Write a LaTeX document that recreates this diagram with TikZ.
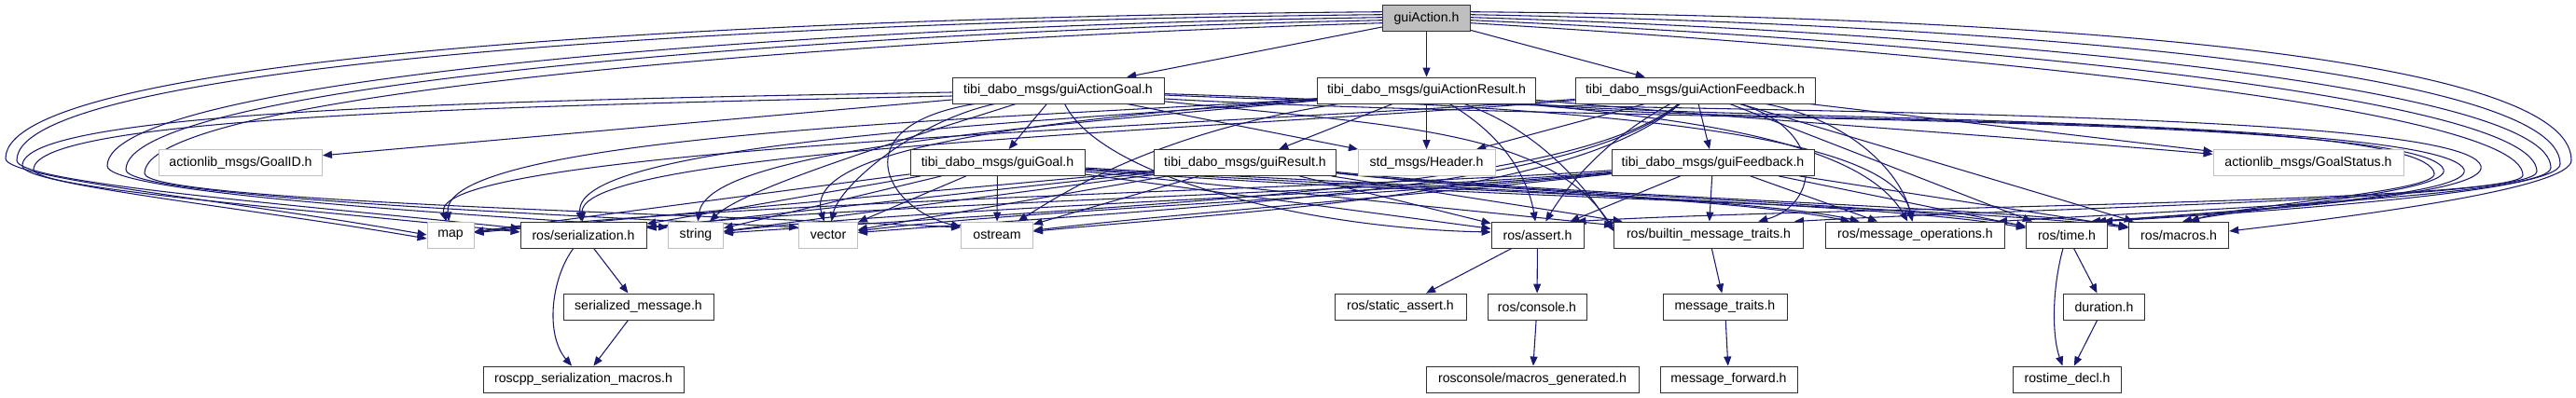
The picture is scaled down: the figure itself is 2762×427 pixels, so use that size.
\documentclass[tikz,border=0pt]{standalone}
\usepackage{fontspec}
\setmainfont{Liberation Sans}
\usetikzlibrary{arrows.meta,calc}
\definecolor{edgeblue}{HTML}{191970}
\definecolor{lightb}{HTML}{BFBFBF}
\definecolor{nodeb}{HTML}{303030}
\pgfdeclarelayer{bg}
\pgfsetlayers{bg,main}
\newcommand\nodefont{\fontsize{10.6}{12}\selectfont}
\newcommand\sE[2]{\draw[ed] (#1) -- (#2);}
\newcommand\cE[4]{\draw[ed] (#1) .. controls (#2) and (#3) .. (#4);}
\begin{document}
\begin{tikzpicture}[x=0.75pt,y=-0.75pt,
  nd/.style={draw=nodeb,fill=white,line width=0.65pt,inner sep=0pt,minimum height=21pt,font=\nodefont},
  ext/.style={nd,draw=lightb},
  root/.style={nd,fill=lightb},
  w/.style={minimum width=#1*0.75pt},
  ed/.style={draw=edgeblue,line width=0.8pt,-{Triangle[length=7.5pt,width=6pt]}}]
\useasboundingbox (0,0) rectangle (2762,427);
% nodes
\node[root,w=94]  (GA) at (1529.5,19.7) {guiAction.h};
\node[nd,w=227]   (AG) at (1134.5,97) {tibi\_dabo\_msgs/guiActionGoal.h};
\node[nd,w=234]   (AR) at (1529.5,97) {tibi\_dabo\_msgs/guiActionResult.h};
\node[nd,w=257]   (AF) at (1817.5,97) {tibi\_dabo\_msgs/guiActionFeedback.h};
\node[ext,w=175]  (GID) at (258,174.5) {actionlib\_msgs/GoalID.h};
\node[nd,w=187]   (GG) at (1069.5,174.5) {tibi\_dabo\_msgs/guiGoal.h};
\node[nd,w=195]   (GR) at (1335,174.5) {tibi\_dabo\_msgs/guiResult.h};
\node[ext,w=147]  (HD) at (1529.5,174.5) {std\_msgs/Header.h};
\node[nd,w=217]   (GF) at (1836.5,174.5) {tibi\_dabo\_msgs/guiFeedback.h};
\node[ext,w=204]  (GS) at (2475,174.5) {actionlib\_msgs/GoalStatus.h};
\node[ext,w=50]   (MAP) at (483,252) {map};
\node[nd,w=135]   (SER) at (625.5,252) {ros/serialization.h};
\node[ext,w=59]   (STR) at (746,252) {string};
\node[ext,w=63]   (VEC) at (888,252) {vector};
\node[ext,w=77]   (OST) at (1069,252) {ostream};
\node[nd,w=99]    (AS) at (1648.5,252) {ros/assert.h};
\node[nd,w=203]   (BT) at (1832,252) {ros/builtin\_message\_traits.h};
\node[nd,w=192]   (MO) at (2053.5,252) {ros/message\_operations.h};
\node[nd,w=87]    (TM) at (2216,252) {ros/time.h};
\node[nd,w=107.5] (MC) at (2336,252) {ros/macros.h};
\node[nd,w=161]   (SM) at (684.5,329) {serialized\_message.h};
\node[nd,w=141]   (SA) at (1501.5,329) {ros/static\_assert.h};
\node[nd,w=106]   (CO) at (1648,329) {ros/console.h};
\node[nd,w=133]   (MT) at (1849.5,329) {message\_traits.h};
\node[nd,w=86.5]  (DU) at (2256,329) {duration.h};
\node[nd,w=215]   (RSM) at (625.5,407) {roscpp\_serialization\_macros.h};
\node[nd,w=228]   (MG) at (1643,407) {rosconsole/macros\_generated.h};
\node[nd,w=147]   (MF) at (1853.5,407) {message\_forward.h};
\node[nd,w=116]   (RD) at (2216.5,407) {rostime\_decl.h};
\begin{pgfonlayer}{bg}
\fill[white] (0,0) rectangle (2762,427);
% guiAction.h
\sE{GA}{AG}\sE{GA}{AR}\sE{GA}{AF}
\draw[ed] ($(GA.west)+(0,-7)$) .. controls (800,18) and (6,60) .. (6,170) .. controls (6,192) and (250,215) .. (MAP.west);
\draw[ed] ($(GA.west)+(0,-4)$) .. controls (820,22) and (18,68) .. (18,172) .. controls (18,196) and (300,218) .. ($(SER.west)+(0,-7)$);
\draw[ed] ($(GA.west)+(0,-1)$) .. controls (850,28) and (115,85) .. (115,178) .. controls (115,205) and (450,228) .. ($(STR.west)+(0,-8)$);
\draw[ed] ($(GA.west)+(0,2)$) .. controls (870,34) and (135,92) .. (135,182) .. controls (135,210) and (550,228) .. ($(VEC.west)+(0,-8)$);
\draw[ed] ($(GA.west)+(0,5)$) .. controls (900,42) and (155,100) .. (155,186) .. controls (155,215) and (700,228) .. ($(OST.west)+(0,-8)$);
\draw[ed] ($(GA.east)+(0,-7)$) .. controls (2200,18) and (2757,60) .. (2757,172) .. controls (2757,200) and (2560,228) .. ($(MC.east)+(0,-4)$);
\draw[ed] ($(GA.east)+(0,-4)$) .. controls (2150,26) and (2745,75) .. (2745,176) .. controls (2745,205) and (2450,226) .. ($(TM.north east)+(-5,0)$);
\draw[ed] ($(GA.east)+(0,-1)$) .. controls (2100,34) and (2735,90) .. (2735,180) .. controls (2735,210) and (2350,225) .. ($(MO.north east)+(-8,0)$);
\draw[ed] ($(GA.east)+(0,2)$) .. controls (2050,42) and (2720,100) .. (2720,184) .. controls (2720,214) and (2200,222) .. ($(BT.north east)+(-10,0)$);
\draw[ed] ($(GA.east)+(0,5)$) .. controls (2000,50) and (2705,110) .. (2705,188) .. controls (2705,218) and (1950,222) .. ($(AS.north east)+(-8,0)$);
% guiActionGoal.h
\sE{AG}{GID}\sE{AG}{HD}\sE{AG}{GG}
\draw[ed] ($(AG.west)+(0,2)$) .. controls (500,108) and (22,120) .. (24,178) .. controls (24,198) and (260,222) .. ($(MAP.west)+(0,4)$);
\draw[ed] ($(AG.west)+(0,6)$) .. controls (520,114) and (36,126) .. (36,182) .. controls (36,202) and (320,224) .. ($(SER.west)+(0,-3)$);
\cE{AG}{1000,140}{800,200}{STR}
\cE{AG}{980,130}{900,200}{VEC}
\cE{AG}{900,135}{950,225}{OST}
\cE{AG}{1180,190}{1400,245}{$(AS.west)+(0,-3)$}
\cE{AG}{1500,135}{1660,140}{$(BT.west)+(0,-6)$}
\cE{AG}{1700,115}{2030,140}{MO}
\draw[ed] ($(AG.east)+(0,5)$) .. controls (1700,122) and (2640,112) .. (2660,178) .. controls (2668,208) and (2450,224) .. ($(TM.north east)+(-12,0)$);
\draw[ed] ($(AG.east)+(0,9)$) .. controls (1700,132) and (2600,120) .. (2620,182) .. controls (2628,206) and (2420,222) .. ($(MC.north)+(4,0)$);
% guiActionResult.h
\sE{AR}{HD}\sE{AR}{GR}
\cE{AR}{1900,130}{2200,150}{GS}
\cE{AR}{1150,125}{470,140}{MAP}
\cE{AR}{1150,130}{610,150}{SER}
\cE{AR}{1120,135}{760,160}{STR}
\cE{AR}{1100,130}{860,160}{VEC}
\cE{AR}{1250,140}{1150,200}{OST}
\cE{AR}{1620,150}{1640,200}{AS}
\cE{AR}{1650,140}{1700,200}{$(BT.west)+(0,-4)$}
\cE{AR}{1750,125}{1990,140}{MO}
\draw[ed] ($(AR.south east)+(-4,0)$) .. controls (1800,128) and (2620,125) .. (2642,182) .. controls (2650,208) and (2440,224) .. ($(TM.north east)+(-18,0)$);
\draw[ed] ($(AR.south east)+(-10,0)$) .. controls (1800,135) and (2600,118) .. (2610,186) .. controls (2615,206) and (2400,220) .. ($(MC.north)+(12,0)$);
% guiActionFeedback.h
\sE{AF}{HD}\sE{AF}{GS}\sE{AF}{GF}
\cE{AF}{1300,135}{455,160}{MAP}
\cE{AF}{1300,140}{620,160}{SER}
\cE{AF}{1690,200}{1300,215}{STR}
\cE{AF}{1690,205}{1300,220}{VEC}
\cE{AF}{1690,210}{1350,225}{OST}
\cE{AF}{1720,150}{1680,200}{AS}
\cE{AF}{1960,140}{1950,220}{BT}
\cE{AF}{1990,130}{2040,190}{MO}
\sE{AF}{TM}\sE{AF}{MC}
% guiGoal.h
\sE{GG}{MAP}\sE{GG}{SER}\sE{GG}{STR}\sE{GG}{VEC}\sE{GG}{OST}\sE{GG}{AS}\sE{GG}{BT}
\cE{GG}{1500,200}{1850,210}{MO}
\cE{GG}{1500,205}{2000,215}{TM}
\cE{GG}{1500,210}{2100,220}{MC}
% guiResult.h
\sE{GR}{MAP}\sE{GR}{SER}\sE{GR}{STR}\sE{GR}{VEC}\sE{GR}{OST}\sE{GR}{AS}\sE{GR}{BT}
\cE{GR}{1600,205}{1900,215}{MO}
\cE{GR}{1650,210}{2050,218}{TM}
\cE{GR}{1700,212}{2150,222}{MC}
% guiFeedback.h
\cE{GF}{1500,200}{800,215}{MAP}
\cE{GF}{1500,205}{900,220}{SER}
\cE{GF}{1500,208}{1000,222}{STR}
\cE{GF}{1500,210}{1100,225}{VEC}
\cE{GF}{1500,212}{1250,230}{OST}
\sE{GF}{AS}\sE{GF}{BT}\sE{GF}{MO}\sE{GF}{TM}\sE{GF}{MC}
% lower levels
\sE{SER}{SM}
\cE{SER}{590,300}{585,360}{RSM}
\sE{SM}{RSM}
\sE{AS}{SA}\sE{AS}{CO}\sE{CO}{MG}
\sE{BT}{MT}\sE{MT}{MF}
\sE{TM}{DU}
\cE{TM}{2200,310}{2200,360}{RD}
\sE{DU}{RD}
\end{pgfonlayer}
\end{tikzpicture}
\end{document}
